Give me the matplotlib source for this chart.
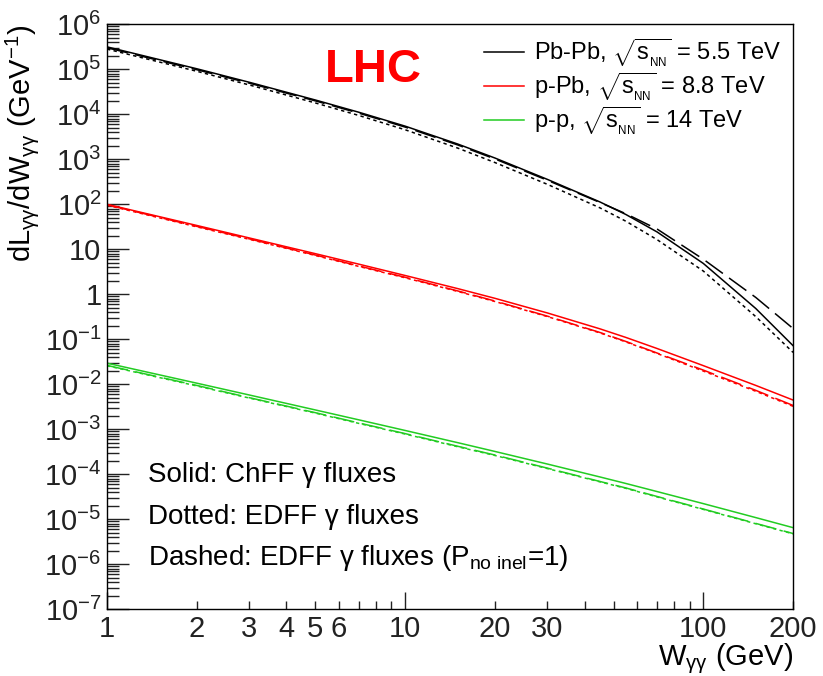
"""dL/dW gamma-gamma luminosities at the LHC: Pb-Pb, p-Pb, p-p (ChFF vs EDFF fluxes)."""

import math

import matplotlib
matplotlib.use("Agg")
import matplotlib.pyplot as plt
from matplotlib.ticker import FixedLocator, FuncFormatter, NullFormatter

# W_gg grid (GeV)
W = [1, 2, 3, 5, 7, 10, 15, 20, 30, 45, 55, 70, 100, 150, 200]

# Pb-Pb, sqrt(s_NN) = 5.5 TeV
pbpb_solid = [3.16e5, 1.03e5, 5.16e4, 2.08e4, 1.11e4, 5.46e3, 2.19e3, 1.07e3, 358, 113, 59.4, 24.3, 4.86, 0.483, 0.0723]
pbpb_dotted = [2.82e5, 9.06e4, 4.5e4, 1.79e4, 9.42e3, 4.54e3, 1.78e3, 849, 278, 83.6, 42.1, 16.4, 3.29, 0.319, 0.0512]
pbpb_dashed = [3.02e5, 9.82e4, 4.93e4, 1.99e4, 1.06e4, 5.21e3, 2.09e3, 1.02e3, 342, 110, 61.7, 28.2, 6.03, 0.851, 0.174]

# p-Pb, sqrt(s_NN) = 8.8 TeV
ppb_solid = [100, 33.9, 17.9, 8.0, 4.67, 2.62, 1.34, 0.815, 0.385, 0.171, 0.110, 0.0624, 0.026, 0.00944, 0.00447]
ppb_dotted = [95.5, 31.6, 16.7, 7.29, 4.16, 2.33, 1.16, 0.693, 0.32, 0.139, 0.0875, 0.0484, 0.0197, 0.0070, 0.00324]
ppb_dashed = [97.7, 32.4, 17.1, 7.46, 4.26, 2.39, 1.19, 0.71, 0.327, 0.142, 0.0895, 0.0495, 0.0207, 0.00733, 0.00339]

# p-p, sqrt(s_NN) = 14 TeV
pp_solid = [0.0295, 0.0106, 5.79e-3, 2.69e-3, 1.62e-3, 9.42e-4, 5.05e-4, 3.22e-4, 1.69e-4, 8.73e-5, 6.25e-5, 4.13e-5, 2.23e-5, 1.09e-5, 6.52e-6]
pp_dotted = [0.0258, 9.2e-3, 4.95e-3, 2.29e-3, 1.35e-3, 7.85e-4, 4.1e-4, 2.62e-4, 1.34e-4, 6.8e-5, 4.87e-5, 3.14e-5, 1.66e-5, 7.95e-6, 4.75e-6]
pp_dashed = [0.0263, 9.44e-3, 5.05e-3, 2.34e-3, 1.38e-3, 8.02e-4, 4.2e-4, 2.68e-4, 1.37e-4, 6.93e-5, 4.97e-5, 3.21e-5, 1.69e-5, 8.1e-6, 4.83e-6]

SQRTS = r"$\sqrt{\mathrm{s}_{_{\rm NN}}}$"
SYSTEMS = [
    ("Pb-Pb, " + SQRTS + " = 5.5 TeV", "black", pbpb_solid, pbpb_dotted, pbpb_dashed),
    ("p-Pb, " + SQRTS + " = 8.8 TeV", "#ff0000", ppb_solid, ppb_dotted, ppb_dashed),
    ("p-p, " + SQRTS + " = 14 TeV", "#22cc22", pp_solid, pp_dotted, pp_dashed),
]

X_LABELED = {1: "1", 2: "2", 3: "3", 4: "4", 5: "5", 6: "6", 10: "10",
             20: "20", 30: "30", 100: "100", 200: "200"}

plt.rcParams.update({
    "font.family": ["Liberation Sans", "DejaVu Sans"],
    "mathtext.fontset": "custom",
    "mathtext.rm": "Liberation Sans",
    "mathtext.it": "Liberation Sans:italic",
    "mathtext.bf": "Liberation Sans:bold",
    "axes.linewidth": 1.0,
})

fig = plt.figure(figsize=(8.23, 6.76), dpi=100)
ax = fig.add_axes([0.130, 0.0987, 0.8336, 0.8653])

for label, color, solid, dotted, dashed in SYSTEMS:
    ax.plot(W, solid, color=color, lw=1.1, ls="-", label=label)
    ax.plot(W, dotted, color=color, lw=1.1, ls=(0, (2.2, 2.2)))
    ax.plot(W, dashed, color=color, lw=1.1, ls=(0, (14, 5)))

ax.set_xscale("log")
ax.set_yscale("log")
ax.set_xlim(1, 200)
ax.set_ylim(1e-7, 1e6)

# x ticks: long at decades, short elsewhere, ROOT-like labels
ax.xaxis.set_major_locator(FixedLocator([1, 10, 100]))
minor_x = [k * 10 ** n for n in range(0, 3) for k in range(2, 10) if k * 10 ** n <= 200]
ax.xaxis.set_minor_locator(FixedLocator(minor_x))
ax.xaxis.set_major_formatter(FuncFormatter(lambda v, p: X_LABELED.get(int(round(v)), "")))
ax.xaxis.set_minor_formatter(FuncFormatter(lambda v, p: X_LABELED.get(int(round(v)), "")))


def ylab(v, pos):
    e = int(round(math.log10(v)))
    if e == 0:
        return "1"
    if e == 1:
        return "10"
    return r"$10^{%d}$" % e


ax.yaxis.set_major_locator(FixedLocator([10.0 ** e for e in range(-7, 7)]))
ax.yaxis.set_major_formatter(FuncFormatter(ylab))
minor_y = [k * 10.0 ** e for e in range(-7, 6) for k in range(2, 10)]
ax.yaxis.set_minor_locator(FixedLocator(minor_y))
ax.yaxis.set_minor_formatter(NullFormatter())

ax.tick_params(axis="both", which="both", direction="in", top=False, right=False,
               labelsize=21, width=1.0, colors="#222222")
ax.tick_params(axis="y", which="major", length=16, pad=4)
ax.tick_params(axis="y", which="minor", length=8.5)
ax.tick_params(axis="x", which="major", length=12, pad=4)
ax.tick_params(axis="x", which="minor", length=6, pad=4)

# x title placed by hand: ROOT puts it tight under the tick labels, right-aligned
fig.text(0.9636, 0.0165, r"W$_{\rm γγ}$ (GeV)", fontsize=21, ha="right", va="baseline")
ax.set_ylabel(r"dL$_{\rm γγ}$/dW$_{\rm γγ}$ (GeV$^{-1}$)", fontsize=21,
              loc="top", labelpad=2)

leg = ax.legend(loc="upper right", frameon=False, fontsize=17, handlelength=1.7,
                handletextpad=0.4, labelspacing=0.08, borderaxespad=0.1)

ax.text(0.318, 0.922, "LHC", transform=ax.transAxes, color="#ff0000",
        fontsize=34, fontweight="bold", ha="left", va="center")

ax.text(0.06, 0.2296, "Solid: ChFF γ fluxes", transform=ax.transAxes,
        fontsize=20, ha="left", va="center")
ax.text(0.06, 0.158, "Dotted: EDFF γ fluxes", transform=ax.transAxes,
        fontsize=20, ha="left", va="center")
ax.text(0.06, 0.088, r"Dashed: EDFF γ fluxes (P$_{\rm no\ inel}$=1)",
        transform=ax.transAxes, fontsize=20, ha="left", va="center")

fig.savefig("out.png", dpi=100)
